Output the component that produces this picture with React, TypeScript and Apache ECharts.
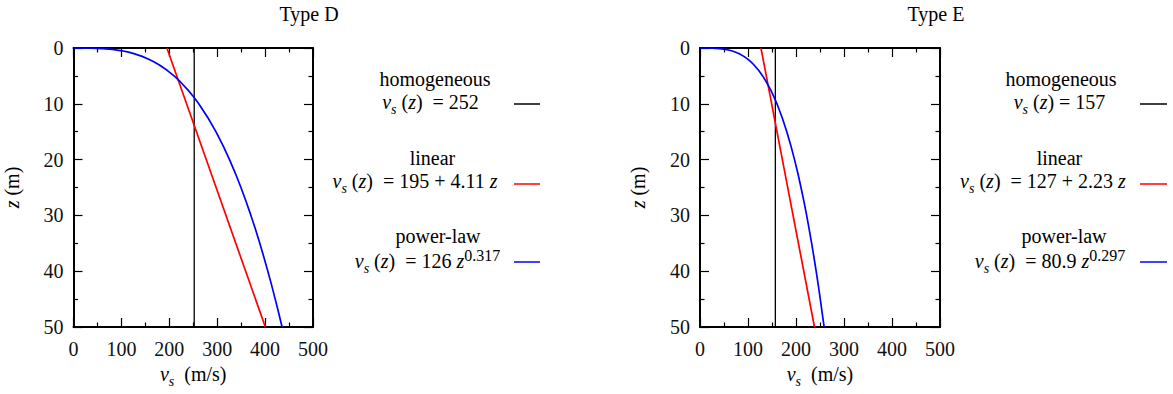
import React, { useEffect, useRef } from 'react';
import * as echarts from 'echarts';

const FONT = "'Liberation Serif', 'Times New Roman', Times, 'DejaVu Serif', serif";

// ---- data ----
const titles = ['Type D', 'Type E'];
const velocityRange = [0, 500];
const depthRange = [0, 50];

const zHomogeneous = [0, 50];
const vHomogeneousD = [252, 252];
const vHomogeneousE = [157, 157];

const zLinear = [0, 50];
const vLinearD = [195, 400.5];
const vLinearE = [127, 238.5];

const zPowerLaw = [0, 0.01, 0.02, 0.05, 0.1, 0.25, 0.5, 0.75, 1, 1.5, 2, 2.5, 3, 4, 5, 6, 7.5, 8.75, 10, 12.5, 15, 17.5, 20, 22.5, 25, 27.5, 30, 32.5, 35, 37.5, 40, 42.5, 45, 47.5, 50];
const vPowerLawD = [0, 29.3, 36.5, 48.7, 60.7, 81.2, 101.2, 115.0, 126, 143.3, 157.0, 168.5, 178.5, 195.5, 209.9, 222.4, 238.7, 250.6, 261.5, 280.6, 297.3, 312.2, 325.7, 338.1, 349.6, 360.3, 370.4, 379.9, 388.9, 397.5, 405.7, 413.6, 421.1, 428.4, 435.4];
const vPowerLawE = [0, 20.6, 25.3, 33.2, 40.8, 53.6, 65.8, 74.3, 80.9, 91.3, 99.4, 106.2, 112.1, 122.1, 130.5, 137.7, 147.2, 154.1, 160.3, 171.3, 180.8, 189.3, 196.9, 204.0, 210.4, 216.5, 222.2, 227.5, 232.6, 237.4, 242.0, 246.4, 250.6, 254.6, 258.6];

const modelNames = ['homogeneous', 'linear', 'power-law'];
const modelColors = ['#000000', '#ff0000', '#0000ff'];
const formulaTailsD = ['{n|  = 252}', '{n|  = 195 + 4.11 }{i|z}', '{n|  = 126 }{i|z}{sup|0.317}'];
const formulaTailsE = ['{n| = 157}', '{n|  = 127 + 2.23 }{i|z}', '{n|  = 80.9 }{i|z}{sup|0.297}'];

const pairs = (v: number[], z: number[]) => v.map((x, i) => [x, z[i]]);

// ---- layout ----
const grids = [
  { left: 73.5, top: 48, width: 239.5, height: 279 },
  { left: 700, top: 48, width: 240, height: 279 },
];
const titleX = [309, 936];
const legendLayout = [
  {
    labelX: [435, 432.5, 438],
    formulaX: [430.5, 415, 427.5],
    lineX: [514, 540],
  },
  {
    labelX: [1061, 1059.5, 1064],
    formulaX: [1059.5, 1043, 1050],
    lineX: [1140, 1167],
  },
];
const labelY = [79, 158, 236];
const formulaY = [102, 181, 261];
const lineY = [104, 184, 262];

const richOpt = (colorKey: 'color' | 'fill') => ({
  n: { fontFamily: FONT, fontSize: 20, lineHeight: 28, [colorKey]: '#000' },
  i: { fontFamily: FONT, fontSize: 20, lineHeight: 28, fontStyle: 'italic', [colorKey]: '#000' },
  sub: { fontFamily: FONT, fontSize: 14, lineHeight: 14, fontStyle: 'italic', verticalAlign: 'bottom', [colorKey]: '#000' },
  sup: { fontFamily: FONT, fontSize: 16, lineHeight: 16, verticalAlign: 'top', [colorKey]: '#000' },
});

export default function App() {
  const ref = useRef<HTMLDivElement>(null);
  useEffect(() => {
    if (!ref.current) return;
    const chart = echarts.init(ref.current, null, { renderer: 'svg' });

    const xAxes: any[] = [];
    const yAxes: any[] = [];
    const series: any[] = [];
    const graphics: any[] = [];

    const axisCommon = {
      type: 'value',
      axisLine: { show: true, onZero: false, lineStyle: { color: '#000', width: 2 } },
      axisTick: { show: true, inside: true, length: 9, lineStyle: { color: '#000', width: 1.2 } },
      minorTick: { show: true, splitNumber: 2, length: 4.5, lineStyle: { color: '#000', width: 1.2 } },
      splitLine: { show: false },
      minorSplitLine: { show: false },
    };

    grids.forEach((g, gi) => {
      xAxes.push({
        ...axisCommon,
        gridIndex: gi,
        position: 'bottom',
        min: velocityRange[0],
        max: velocityRange[1],
        interval: 100,
        axisLabel: { show: true, margin: 12, fontFamily: FONT, fontSize: 20, color: '#111' },
        name: '{i|v}{sub|s}{n|  (m/s)}',
        nameLocation: 'middle',
        nameGap: 33,
        nameTextStyle: { fontFamily: FONT, rich: richOpt('color') },
      });
      xAxes.push({
        ...axisCommon,
        gridIndex: gi,
        position: 'top',
        min: velocityRange[0],
        max: velocityRange[1],
        interval: 100,
        axisLabel: { show: false },
      });
      yAxes.push({
        ...axisCommon,
        gridIndex: gi,
        position: 'left',
        inverse: true,
        min: depthRange[0],
        max: depthRange[1],
        interval: 10,
        axisLabel: { show: true, margin: 10, fontFamily: FONT, fontSize: 20, color: '#111' },
        name: '{i|z}{n| (m)}',
        nameLocation: 'middle',
        nameRotate: 90,
        nameGap: 48,
        nameTextStyle: { fontFamily: FONT, rich: richOpt('color') },
      });
      yAxes.push({
        ...axisCommon,
        gridIndex: gi,
        position: 'right',
        inverse: true,
        min: depthRange[0],
        max: depthRange[1],
        interval: 10,
        axisLabel: { show: false },
      });

      const xi = gi * 2;
      const yi = gi * 2;
      const hom = gi === 0 ? vHomogeneousD : vHomogeneousE;
      const lin = gi === 0 ? vLinearD : vLinearE;
      const pow = gi === 0 ? vPowerLawD : vPowerLawE;
      const datasets = [pairs(hom, zHomogeneous), pairs(lin, zLinear), pairs(pow, zPowerLaw)];
      datasets.forEach((d, si) => {
        series.push({
          type: 'line',
          name: `${modelNames[si]} ${titles[gi]}`,
          xAxisIndex: xi,
          yAxisIndex: yi,
          data: d,
          showSymbol: false,
          symbol: 'none',
          lineStyle: { color: modelColors[si], width: si === 0 ? 1.3 : 1.7 },
          z: 3 + si,
        });
      });

      graphics.push({
        type: 'text',
        x: titleX[gi],
        y: 14,
        style: {
          text: titles[gi],
          fontFamily: FONT,
          fontSize: 20,
          fill: '#000',
          textAlign: 'center',
          textVerticalAlign: 'middle',
        },
      });

      const L = legendLayout[gi];
      const tails = gi === 0 ? formulaTailsD : formulaTailsE;
      modelNames.forEach((nm, k) => {
        graphics.push({
          type: 'text',
          x: L.labelX[k],
          y: labelY[k],
          style: {
            text: nm,
            fontFamily: FONT,
            fontSize: 20,
            fill: '#000',
            textAlign: 'center',
            textVerticalAlign: 'middle',
          },
        });
        graphics.push({
          type: 'text',
          x: L.formulaX[k],
          y: formulaY[k],
          style: {
            text: '{i|v}{sub|s}{n| (}{i|z}{n|)}' + tails[k],
            rich: richOpt('fill'),
            fontFamily: FONT,
            fontSize: 20,
            fill: '#000',
            textAlign: 'center',
            textVerticalAlign: 'middle',
          },
        });
        graphics.push({
          type: 'line',
          shape: { x1: L.lineX[0], y1: lineY[k], x2: L.lineX[1], y2: lineY[k] },
          style: { stroke: modelColors[k], lineWidth: 1.5 },
        });
      });
    });

    chart.setOption({
      animation: false,
      backgroundColor: '#ffffff',
      textStyle: { fontFamily: FONT },
      grid: grids.map((g) => ({ ...g, containLabel: false })),
      xAxis: xAxes,
      yAxis: yAxes,
      series,
      graphic: graphics,
    });

    return () => chart.dispose();
  }, []);

  return (
    <div
      ref={ref}
      style={{ position: 'fixed', left: 0, top: 0, width: 1173, height: 394, background: '#fff' }}
    />
  );
}
